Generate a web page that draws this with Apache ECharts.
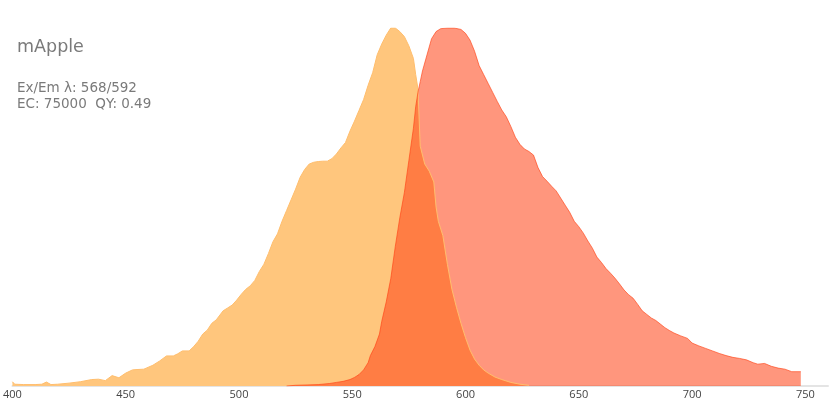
<!DOCTYPE html>
<html>
<head>
<meta charset="utf-8">
<script src="https://cdn.jsdelivr.net/npm/echarts@6/dist/echarts.min.js"></script>
<style>
	html, body { margin: 0; padding: 0; background: #fff; }
	#spectra { width: 840px; height: 420px; }
</style>
</head>
<body>
<div id="spectra"></div>
<script>
// mApple spectra (normalised to 1)
var exNm = [400, 401, 405, 410, 413, 415, 417, 420, 425, 430, 435, 438, 441, 444, 447, 450, 453, 455, 458, 462,
	465, 468, 471, 473, 475, 478, 480, 482, 484, 486, 488, 490, 493, 495, 497, 499, 501, 503, 505, 507,
	509, 511, 513, 515, 517, 519, 521, 523, 525, 527, 529, 531, 533, 535, 537, 539, 541, 543, 545, 547,
	549, 551, 553, 555, 557, 559, 561, 563, 565, 567, 569, 571, 573, 575, 577, 578, 579, 580, 582, 584,
	586, 587, 588, 590, 592, 594, 596, 598, 600, 602, 604, 606, 608, 610, 613, 616, 620, 624, 628];
var exVal = [0.012, 0.005, 0.004, 0.004, 0.005, 0.011, 0.004, 0.005, 0.008, 0.012, 0.018, 0.019, 0.015, 0.029, 0.023, 0.036, 0.045, 0.046, 0.047, 0.058,
	0.07, 0.084, 0.084, 0.09, 0.098, 0.098, 0.11, 0.125, 0.145, 0.156, 0.175, 0.185, 0.21, 0.218, 0.226, 0.24, 0.256, 0.27, 0.28, 0.295,
	0.32, 0.34, 0.37, 0.403, 0.425, 0.46, 0.49, 0.52, 0.55, 0.583, 0.605, 0.62, 0.625, 0.627, 0.628, 0.628, 0.635, 0.648, 0.665, 0.68,
	0.712, 0.74, 0.77, 0.8, 0.84, 0.875, 0.925, 0.955, 0.98, 1.0, 1.0, 0.99, 0.976, 0.95, 0.915, 0.87, 0.83, 0.67, 0.62, 0.6,
	0.57, 0.5, 0.46, 0.42, 0.34, 0.27, 0.22, 0.175, 0.135, 0.1, 0.075, 0.058, 0.045, 0.036, 0.025, 0.018, 0.01, 0.005, 0.002];

var emNm = [521, 525, 530, 535, 540, 543, 546, 549, 551, 553, 555, 557, 558, 560, 562, 563, 565, 567, 569, 571,
	573, 575, 577, 578, 579, 580, 581, 583, 585, 587, 589, 592, 595, 598, 600, 602, 604, 606, 608, 610,
	612, 614, 616, 618, 620, 622, 624, 626, 628, 630, 632, 634, 636, 638, 640, 642, 644, 646, 648, 650,
	652, 654, 656, 658, 660, 662, 664, 666, 668, 670, 672, 674, 676, 678, 680, 682, 684, 686, 688, 690,
	692, 695, 698, 700, 703, 706, 709, 712, 715, 718, 721, 724, 727, 729, 732, 735, 738, 741, 744, 748];
var emVal = [0, 0.002, 0.003, 0.004, 0.007, 0.01, 0.013, 0.018, 0.024, 0.032, 0.045, 0.065, 0.085, 0.11, 0.145, 0.18, 0.235, 0.3, 0.39, 0.47,
	0.54, 0.63, 0.72, 0.78, 0.82, 0.85, 0.88, 0.925, 0.97, 0.99, 0.998, 1.0, 1.0, 0.996, 0.985, 0.966, 0.935, 0.895, 0.87, 0.845,
	0.82, 0.795, 0.771, 0.752, 0.725, 0.695, 0.675, 0.662, 0.655, 0.645, 0.61, 0.585, 0.572, 0.558, 0.545, 0.525, 0.505, 0.485, 0.46, 0.445,
	0.427, 0.405, 0.385, 0.36, 0.345, 0.328, 0.315, 0.301, 0.285, 0.268, 0.255, 0.245, 0.228, 0.21, 0.2, 0.19, 0.183, 0.173, 0.163, 0.155,
	0.148, 0.14, 0.133, 0.12, 0.112, 0.105, 0.098, 0.091, 0.085, 0.08, 0.077, 0.073, 0.065, 0.061, 0.063, 0.055, 0.05, 0.047, 0.04, 0.04];

var xTicks = [400, 450, 500, 550, 600, 650, 700, 750];

function zip(xs, ys) {
	return xs.map(function (x, i) { return [x, ys[i]]; });
}

var chart = echarts.init(document.getElementById('spectra'));
chart.setOption({
	animation: false,
	title: {
		text: 'mApple',
		subtext: 'Ex/Em λ: 568/592\nEC: 75000  QY: 0.49',
		left: 12,
		top: 33,
		itemGap: 24,
		textStyle: { fontFamily: 'DejaVu Sans', fontSize: 17.5, fontWeight: 'normal', color: '#7a7a7a' },
		subtextStyle: { fontFamily: 'DejaVu Sans', fontSize: 13.5, color: '#7a7a7a', lineHeight: 16 }
	},
	grid: { left: 12, right: 12, top: 28, bottom: 34 },
	xAxis: {
		type: 'value',
		min: 400,
		max: 760,
		interval: 50,
		splitLine: { show: false },
		axisTick: { show: false },
		axisLine: { lineStyle: { color: '#e4e4e4', width: 2 } },
		axisLabel: {
			fontFamily: 'Open Sans',
			color: '#444',
			fontSize: 11,
			margin: 3,
			showMaxLabel: false,
			formatter: function (v) { return xTicks.indexOf(v) >= 0 ? String(v) : ''; }
		}
	},
	yAxis: { type: 'value', min: 0, max: 1, show: false },
	series: [
		{
			name: 'excitation',
			type: 'line',
			data: zip(exNm, exVal),
			showSymbol: false,
			lineStyle: { color: 'rgb(255,190,110)', width: 1 },
			areaStyle: { color: 'rgb(255,198,125)', opacity: 1 }
		},
		{
			name: 'emission',
			type: 'line',
			data: zip(emNm, emVal),
			showSymbol: false,
			lineStyle: { color: 'rgba(255,68,23,0.65)', width: 1 },
			areaStyle: { color: 'rgb(255,68,23)', opacity: 0.56 }
		}
	]
});
</script>
</body>
</html>
